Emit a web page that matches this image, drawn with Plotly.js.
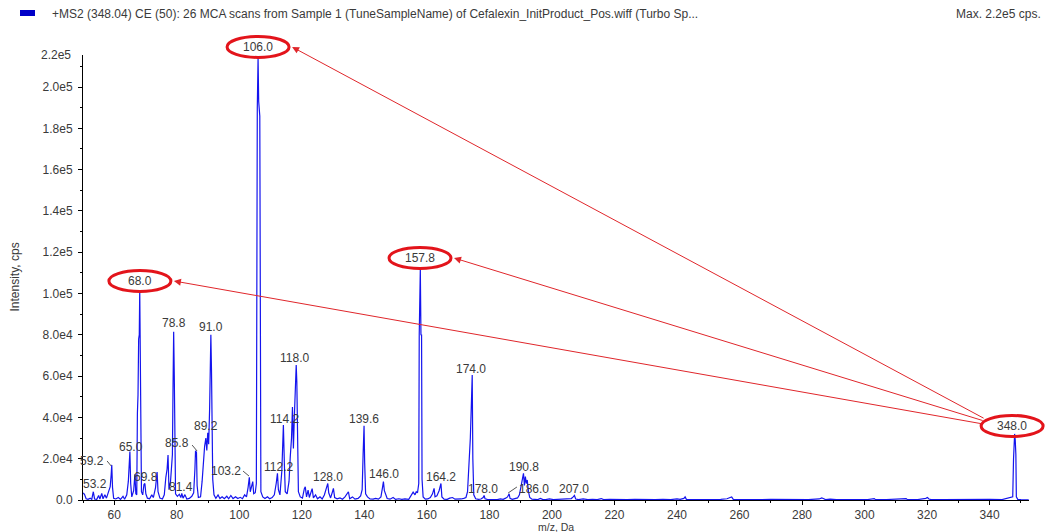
<!DOCTYPE html>
<html><head><meta charset="utf-8">
<script src="https://cdn.plot.ly/plotly-3.0.1.min.js"></script>
<style>html,body{margin:0;padding:0;background:#fff}#chart{width:1047px;height:532px}</style>
</head><body><div id="chart"></div>
<script>
// ---- spectrum profile (m/z, intensity in cps) ----
const mz = [
 50.1,50.5,51.0,51.6,52.3,52.8,53.3,53.7,54.4,55.0,55.4,56.0,56.4,57.0,57.5,58.2,58.7,59.0,59.2,59.45,59.8,
 60.5,61.3,62.0,62.8,63.3,64.0,64.5,64.8,65.0,65.25,65.6,66.2,66.6,66.9,67.2,67.4,67.6,67.8,68.0,68.15,68.3,68.5,68.7,
 69.1,69.5,69.8,70.1,70.6,71.3,72.0,72.5,73.2,73.5,73.7,74.0,74.6,75.4,76.0,76.5,76.9,77.2,77.5,78.0,78.6,78.8,79.0,79.2,79.4,79.6,
 80.2,80.8,81.3,81.6,82.0,82.6,83.2,84.0,84.8,85.4,85.8,86.0,86.3,86.5,86.9,87.6,88.1,88.5,88.9,89.3,89.6,89.9,90.2,90.5,90.7,90.9,91.1,91.3,91.5,91.9,
 92.5,93.2,93.8,94.5,95.2,96.0,96.6,97.3,98.0,98.8,99.5,100.3,101.0,101.7,102.3,102.8,103.2,103.5,103.9,104.3,104.6,105.1,105.45,105.6,105.75,106.0,106.2,106.55,106.75,106.9,
 107.5,108.2,109.0,109.7,110.5,111.2,111.8,112.2,112.5,113.0,113.6,113.9,114.1,114.4,114.7,115.3,115.9,116.3,116.7,117.0,117.3,117.6,117.9,118.2,118.4,118.6,118.9,
 119.5,120.2,120.8,121.1,121.5,122.0,122.4,123.0,123.3,123.7,124.4,125.0,125.8,126.5,127.2,127.8,128.3,128.6,129.2,129.8,130.1,130.5,131.3,132.2,133.0,133.8,134.9,135.3,
 136.2,137.0,138.0,138.8,139.3,139.6,139.9,140.1,140.4,141.0,141.8,142.8,143.6,144.5,145.3,145.8,146.1,146.4,146.8,147.3,148.2,149.2,150.0,151.0,152.0,153.0,154.2,
 155.0,155.6,156.2,156.6,157.0,157.4,157.55,157.75,157.9,158.1,158.3,158.45,158.8,159.5,160.3,161.1,161.8,162.3,162.6,163.2,163.9,164.5,164.8,165.5,166.5,167.3,168.2,169.0,
 170.0,171.0,171.8,172.5,173.0,173.3,173.6,173.9,174.2,174.5,174.7,175.0,175.6,176.5,177.3,178.0,178.3,178.6,179.3,180.5,181.5,182.5,183.5,184.4,185.2,185.8,186.3,186.6,
 187.3,188.2,189.0,189.6,190.1,190.5,190.9,191.2,191.5,191.8,192.1,192.5,192.9,193.6,194.5,195.5,196.3,197.0,198.0,199.2,200.5,202.0,203.5,205.0,206.2,206.8,207.2,207.6,
 208.5,210.0,211.5,213.0,214.5,215.8,216.5,218.5,220.0,222.0,224.0,226.5,228.5,231.0,233.0,235.5,238.0,240.0,241.0,242.2,242.6,243.0,245.0,248.0,251.0,254.0,256.0,257.0,257.5,
 258.0,260.0,263.0,266.0,270.0,273.0,276.0,279.0,282.0,285.5,286.3,286.8,287.5,289.0,291.0,295.0,298.0,301.0,303.1,303.5,307.0,310.0,311.5,313.3,313.7,317.0,319.6,320.1,320.6,
 321.2,325.0,330.0,333.0,337.0,340.0,344.0,347.4,347.65,347.8,348.0,348.2,348.4,348.55,349.0,350.0,351.5,352.5
];
const intensity = [
 3500,2600,600,300,900,300,4000,500,300,2200,500,3200,600,2600,900,5000,6500,12000,17000,6000,800,
 500,1200,300,1800,400,2500,9000,15000,23500,8000,1500,4500,12500,3000,2500,42000,51000,78000,80000,101700,78000,50000,4000,
 2500,7500,8000,3000,900,600,2500,1200,6000,9500,13500,4000,900,500,2500,11000,15000,21800,5000,9000,22000,55000,81500,60000,30000,3000,
 1800,2800,1200,3200,900,2600,500,800,1800,3500,15000,23900,23000,7000,1200,1500,9000,21000,26000,30000,24000,32500,27000,44000,58000,80000,63000,38000,10000,2500,
 800,2400,700,1600,600,1800,600,2200,700,1600,700,1300,600,2500,1500,6000,11000,4000,6500,8900,3000,3500,8000,120000,190000,214000,193000,186000,60000,4000,
 1500,700,1600,600,1200,2500,8000,12900,5000,2500,14000,28000,36300,18000,4000,3000,9000,21000,30000,45000,25000,40000,52000,65400,57300,30000,4000,
 1500,900,5500,6400,1500,4800,1200,4000,5500,1000,2500,600,1500,500,2400,5500,8000,3500,1000,4000,5600,1200,600,1000,400,1500,4000,600,
 1500,400,800,2000,5000,22000,36000,18000,3000,1500,500,400,800,400,1500,6000,8900,4500,3000,700,400,1200,300,600,300,500,300,
 2500,3800,2500,4000,3500,8000,80000,95000,112000,80000,79900,10000,1500,400,500,1200,3000,5600,1500,2000,4500,8000,1500,400,300,900,1200,400,
 300,500,800,1200,4000,13700,16000,30000,45000,60500,20000,2500,600,300,500,1200,2200,600,300,200,400,200,500,300,900,1500,3000,800,
 300,500,1000,2500,6000,9000,12900,7000,11300,8000,9700,4000,1200,400,300,200,800,300,200,500,200,300,200,500,700,1500,2200,500,
 200,500,200,300,200,700,200,300,200,400,200,300,200,400,200,300,200,500,300,800,1500,300,200,300,200,300,600,1200,1500,
 300,200,300,200,300,200,300,200,200,500,1000,700,200,400,200,200,300,200,700,200,200,300,400,700,200,200,800,1200,500,
 200,200,300,200,200,300,200,1500,20000,29000,32000,29000,22000,1500,300,200,100,100
];

// ---- peak labels ----
const labelText = ["106.0","68.0","157.8","348.0","78.8","91.0","118.0","174.0","114.2","139.6","89.2","85.8","65.0",
  "59.2","190.8","103.2","112.2","69.8","164.2","146.0","128.0","53.2","81.4","178.0","186.0","207.0"];
// label anchor (m/z, intensity) where each label text sits
const labelMz  = [106.0,68.2,157.8,347.2,79.1,90.9,117.5,174.1,114.6,139.9,89.3,80.1,65.2,
  52.9,191.1,95.7,112.4,70.2,164.5,146.3,128.4,53.7,81.3,178.0,194.3,207.1];
const labelInt = [219400,106060,117200,35840,85720,83780,68770,63440,39230,39230,35840,27600,25670,
  18900,16000,14000,16000,11100,11100,12600,11100,7700,6300,5300,5300,5300];
// leader lines from label to peak
const leaderLabel = ["59.2","85.8","103.2","186.0"];
const leaderMz0 = [57.7,84.9,101.2,186.0], leaderInt0 = [18900,26600,14000,3400];
const leaderMz1 = [59.0,86.5,103.1,188.8], leaderInt1 = [16500,23700,11600,6300];

// fragment relations (precursor -> product ions)
const precursor = "348.0";
const products = ["106.0","157.8","68.0"];

const yTickVals = [0,20000,40000,60000,80000,100000,120000,140000,160000,180000,200000];
const yTickText = ["0.0","2.0e4","4.0e4","6.0e4","8.0e4","1.0e5","1.2e5","1.4e5","1.6e5","1.8e5","2.0e5"];
const yMinorVals = [10000,30000,50000,70000,90000,110000,130000,150000,170000,190000,210000];

// ---- geometry ----
const W = 1047, H = 532;
const M = {l:83, r:18, t:55, b:32};
const plotW = W - M.l - M.r, plotH = H - M.t - M.b;
const XR = [50, 352.6], YR = [0, 215500];
const FONT = "Liberation Sans, Arial, sans-serif";
const TXT = "#3a3a3a";

const fx = m => (m - XR[0]) / (XR[1] - XR[0]);       // paper x
const fy = v => (v - YR[0]) / (YR[1] - YR[0]);       // paper y
const pxX = m => M.l + fx(m) * plotW;
const pxY = v => M.t + plotH - fy(v) * plotH;
const paperFromPxX = p => (p - M.l) / plotW;
const paperFromPxY = p => (M.t + plotH - p) / plotH;

const annotations = [];
const shapes = [];

labelText.forEach((t, i) => {
  annotations.push({text: t, x: labelMz[i], xref: 'x', y: fy(labelInt[i]), yref: 'paper',
    showarrow: false, xanchor: 'center', yanchor: 'middle',
    font: {family: FONT, size: 12, color: TXT}});
});

leaderLabel.forEach((t, i) => {
  shapes.push({type: 'line', xref: 'x', yref: 'y', x0: leaderMz0[i], y0: leaderInt0[i],
    x1: leaderMz1[i], y1: leaderInt1[i], line: {color: '#555', width: 1}});
});

const idx = t => labelText.indexOf(t);
const RX = 31, RY = 10.5;
[precursor].concat(products).forEach(t => {
  const i = idx(t);
  const cx = fx(labelMz[i]), cy = fy(labelInt[i]);
  shapes.push({type: 'circle', xref: 'paper', yref: 'paper',
    x0: cx - RX / plotW, x1: cx + RX / plotW, y0: cy - RY / plotH, y1: cy + RY / plotH,
    line: {color: '#e3141b', width: 3}});
});

const tailOff = [[-27, -7], [-28, -5], [-29, -2]];
const ps = idx(precursor);
const sx = pxX(labelMz[ps]), sy = pxY(labelInt[ps]);
products.forEach((t, k) => {
  const i = idx(t);
  const hx = pxX(labelMz[i]) + RX + 3, hy = pxY(labelInt[i]);
  const tx = sx + tailOff[k][0], ty = sy + tailOff[k][1];
  annotations.push({text: '', x: paperFromPxX(hx), y: paperFromPxY(hy),
    xref: 'paper', yref: 'paper', showarrow: true, ax: tx - hx, ay: ty - hy,
    axref: 'pixel', ayref: 'pixel', arrowhead: 2, arrowsize: 1.4, arrowwidth: 1,
    arrowcolor: '#e0262b', standoff: 0, startstandoff: 0});
});

// header: legend swatch, top-of-axis label, max label
shapes.push({type: 'rect', xref: 'paper', yref: 'paper',
  x0: paperFromPxX(20), x1: paperFromPxX(35), y0: paperFromPxY(16), y1: paperFromPxY(10),
  fillcolor: '#0000c8', line: {width: 0}});
annotations.push({text: '2.2e5', xref: 'paper', yref: 'paper', x: paperFromPxX(73), y: 1,
  xanchor: 'right', yanchor: 'middle', showarrow: false, font: {family: FONT, size: 12, color: TXT}});
annotations.push({text: 'Max. 2.2e5 cps.', xref: 'paper', yref: 'paper',
  x: paperFromPxX(1043), y: paperFromPxY(14),
  xanchor: 'right', yanchor: 'middle', showarrow: false, font: {family: FONT, size: 12, color: TXT}});
// axis titles
annotations.push({text: 'm/z, Da', xref: 'paper', yref: 'paper', x: 0.5, y: paperFromPxY(526.5),
  xanchor: 'center', yanchor: 'middle', showarrow: false, font: {family: FONT, size: 10.5, color: TXT}});
annotations.push({text: 'Intensity, cps', xref: 'paper', yref: 'paper', x: paperFromPxX(14), y: 0.5,
  textangle: -90, xanchor: 'center', yanchor: 'middle', showarrow: false, font: {family: FONT, size: 12, color: TXT}});

const trace = {x: mz, y: intensity, type: 'scatter', mode: 'lines',
  line: {color: '#1414ee', width: 1.2}, hoverinfo: 'x+y'};

const layout = {
  width: W, height: H, margin: M, paper_bgcolor: '#fff', plot_bgcolor: '#fff', showlegend: false,
  font: {family: FONT, size: 12, color: TXT},
  title: {text: '+MS2 (348.04) CE (50): 26 MCA scans from Sample 1 (TuneSampleName) of Cefalexin_InitProduct_Pos.wiff (Turbo Sp...',
    xref: 'container', yref: 'container', x: 52 / W, xanchor: 'left', y: 1 - 14 / H, yanchor: 'middle',
    font: {family: FONT, size: 12, color: TXT}},
  xaxis: {range: XR, showgrid: false, zeroline: false, showline: true, linecolor: '#000', linewidth: 1,
    ticks: 'outside', ticklen: 4, tickcolor: '#000', tick0: 0, dtick: 20,
    minor: {dtick: 10, ticks: 'outside', ticklen: 2, tickcolor: '#000'},
    tickfont: {family: FONT, size: 12, color: TXT}},
  yaxis: {range: YR, showgrid: false, zeroline: false, showline: true, linecolor: '#000', linewidth: 1,
    ticks: 'outside', ticklen: 4, tickcolor: '#000', tickmode: 'array', tickvals: yTickVals, ticktext: yTickText,
    ticklabelstandoff: 3,
    minor: {tickvals: yMinorVals, ticks: 'outside', ticklen: 2, tickcolor: '#000'},
    tickfont: {family: FONT, size: 12, color: TXT}},
  annotations: annotations, shapes: shapes
};

Plotly.newPlot('chart', [trace], layout, {staticPlot: true, displayModeBar: false});
</script></body></html>
